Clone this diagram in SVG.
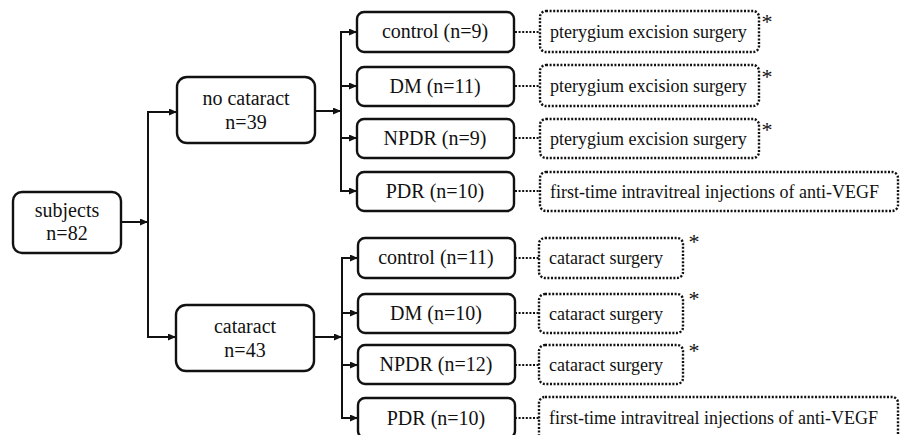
<svg xmlns="http://www.w3.org/2000/svg" width="901" height="435" viewBox="0 0 901 435">
<style>
.box{fill:#fff;stroke:#111;stroke-width:2.4}
.dbox{fill:#fff;stroke:#111;stroke-width:2.4;stroke-dasharray:2 1.6}
text{font-family:'Liberation Serif','Times New Roman',Times,'Nimbus Roman','DejaVu Serif',serif;fill:#111}
.t{font-size:20px;text-anchor:middle}
.d{font-size:18px}
.ast{font-size:22px;text-anchor:middle}
.ln{fill:none;stroke:#111;stroke-width:2}
.dl{fill:none;stroke:#111;stroke-width:2.2;stroke-dasharray:2 1.6}
</style>
<defs>
<marker id="ar" markerUnits="userSpaceOnUse" markerWidth="9" markerHeight="8" refX="8" refY="3.5" orient="auto">
<path d="M0,0 L8,3.5 L0,7 z" fill="#111"/>
</marker>
</defs>
<g id="connectors">
<line class="ln" x1="121" y1="222" x2="148" y2="222" marker-end="url(#ar)"/>
<line class="ln" x1="148" y1="111" x2="148" y2="338"/>
<line class="ln" x1="147" y1="112" x2="177" y2="112" marker-end="url(#ar)"/>
<line class="ln" x1="147" y1="337" x2="176" y2="337" marker-end="url(#ar)"/>
<line class="ln" x1="315" y1="111" x2="341" y2="111" marker-end="url(#ar)"/>
<line class="ln" x1="341" y1="31" x2="341" y2="192"/>
<line class="ln" x1="340" y1="32" x2="357" y2="32" marker-end="url(#ar)"/>
<line class="ln" x1="340" y1="86" x2="357" y2="86" marker-end="url(#ar)"/>
<line class="ln" x1="340" y1="138" x2="357" y2="138" marker-end="url(#ar)"/>
<line class="ln" x1="340" y1="191" x2="357" y2="191" marker-end="url(#ar)"/>
<line class="ln" x1="314" y1="337" x2="342" y2="337" marker-end="url(#ar)"/>
<line class="ln" x1="342" y1="257" x2="342" y2="419"/>
<line class="ln" x1="341" y1="258" x2="358" y2="258" marker-end="url(#ar)"/>
<line class="ln" x1="341" y1="313" x2="358" y2="313" marker-end="url(#ar)"/>
<line class="ln" x1="341" y1="365" x2="358" y2="365" marker-end="url(#ar)"/>
<line class="ln" x1="341" y1="418" x2="358" y2="418" marker-end="url(#ar)"/>
<line class="dl" x1="515" y1="32" x2="540" y2="32"/>
<line class="dl" x1="515" y1="86" x2="540" y2="86"/>
<line class="dl" x1="515" y1="138" x2="540" y2="138"/>
<line class="dl" x1="515" y1="191" x2="540" y2="191"/>
<line class="dl" x1="515" y1="258" x2="539" y2="258"/>
<line class="dl" x1="515" y1="313" x2="539" y2="313"/>
<line class="dl" x1="515" y1="365" x2="539" y2="365"/>
<line class="dl" x1="515" y1="418" x2="539" y2="418"/>
</g>
<g id="subjects"><rect class="box" x="13" y="192" width="108" height="61" rx="9"/><text class="t" x="67" y="217">subjects</text><text class="t" x="67" y="240">n=82</text></g>
<g id="no-cataract"><rect class="box" x="177" y="77" width="138" height="66" rx="10"/><text class="t" x="246" y="105">no cataract</text><text class="t" x="246" y="129">n=39</text></g>
<g id="cataract"><rect class="box" x="176" y="305" width="138" height="66" rx="10"/><text class="t" x="245" y="333">cataract</text><text class="t" x="245" y="357">n=43</text></g>
<g id="nc-control"><rect class="box" x="357" y="12" width="157" height="40" rx="7"/><text class="t" x="435" y="38">control (n=9)</text></g>
<g id="nc-dm"><rect class="box" x="357" y="67" width="157" height="39" rx="7"/><text class="t" x="435" y="93">DM (n=11)</text></g>
<g id="nc-npdr"><rect class="box" x="357" y="119" width="157" height="39" rx="7"/><text class="t" x="435" y="145">NPDR (n=9)</text></g>
<g id="nc-pdr"><rect class="box" x="357" y="172" width="157" height="39" rx="7"/><text class="t" x="435" y="198">PDR (n=10)</text></g>
<g id="c-control"><rect class="box" x="358" y="238" width="157" height="40" rx="7"/><text class="t" x="436" y="264">control (n=11)</text></g>
<g id="c-dm"><rect class="box" x="358" y="294" width="157" height="39" rx="7"/><text class="t" x="436" y="320">DM (n=10)</text></g>
<g id="c-npdr"><rect class="box" x="358" y="345" width="157" height="39" rx="7"/><text class="t" x="436" y="371">NPDR (n=12)</text></g>
<g id="c-pdr"><rect class="box" x="358" y="398" width="157" height="40" rx="7"/><text class="t" x="436" y="425">PDR (n=10)</text></g>
<g id="nc-control-proc"><rect class="dbox" x="540" y="11" width="219" height="41" rx="6"/><text class="d" x="550" y="38">pterygium excision surgery</text><text class="ast" x="767" y="29">*</text></g>
<g id="nc-dm-proc"><rect class="dbox" x="540" y="65" width="219" height="41" rx="6"/><text class="d" x="550" y="92">pterygium excision surgery</text><text class="ast" x="767" y="84">*</text></g>
<g id="nc-npdr-proc"><rect class="dbox" x="540" y="119" width="219" height="39" rx="6"/><text class="d" x="550" y="145">pterygium excision surgery</text><text class="ast" x="767" y="137">*</text></g>
<g id="nc-pdr-proc"><rect class="dbox" x="540" y="172" width="358" height="39" rx="6"/><text class="d" x="550" y="198">first-time intravitreal injections of anti-VEGF</text></g>
<g id="c-control-proc"><rect class="dbox" x="539" y="238" width="144" height="40" rx="6"/><text class="d" x="549" y="264">cataract surgery</text><text class="ast" x="694" y="249">*</text></g>
<g id="c-dm-proc"><rect class="dbox" x="539" y="294" width="144" height="39" rx="6"/><text class="d" x="549" y="320">cataract surgery</text><text class="ast" x="694" y="306">*</text></g>
<g id="c-npdr-proc"><rect class="dbox" x="539" y="345" width="144" height="39" rx="6"/><text class="d" x="549" y="371">cataract surgery</text><text class="ast" x="694" y="358">*</text></g>
<g id="c-pdr-proc"><rect class="dbox" x="539" y="397" width="359" height="44" rx="6"/><text class="d" x="549" y="424">first-time intravitreal injections of anti-VEGF</text></g>
</svg>
